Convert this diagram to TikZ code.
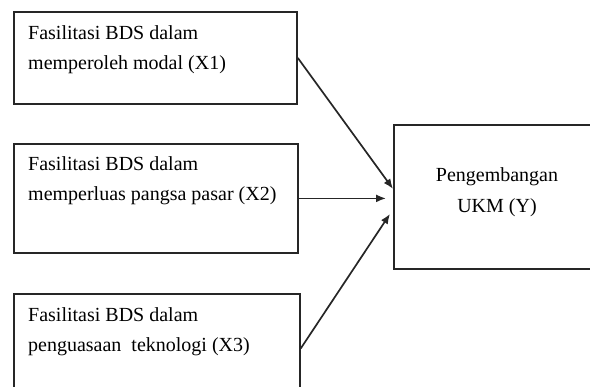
\documentclass[tikz,border=0pt]{standalone}
\usepackage{fontspec}
\setmainfont{Liberation Serif}
\usetikzlibrary{arrows.meta}

\tikzset{
  box/.style={draw=black!85, line width=1.8pt, anchor=north west, inner sep=0pt},
  lbl/.style={anchor=base west, align=left, inner sep=0pt, font=\fontsize{20}{30}\selectfont, text=black},
  lblc/.style={anchor=base, align=center, inner sep=0pt, font=\fontsize{20}{31}\selectfont, text=black},
  link/.style={draw=black!85, line width=1.7pt, -{Latex[length=10pt,width=8pt]}}
}

\begin{document}
\begin{tikzpicture}[x=1pt, y=-1pt]
  \clip (0,0) rectangle (590,387);
  \useasboundingbox (0,0) rectangle (590,387);

  \node[box, minimum width=283pt, minimum height=92pt] (X1) at (13, 11) {};
  \node[lbl] (X1t) at (28, 70) {Fasilitasi BDS dalam\\memperoleh modal (X1)};

  \node[box, minimum width=284pt, minimum height=109pt] (X2) at (13, 143) {};
  \node[lbl] (X2t) at (28, 201) {Fasilitasi BDS dalam\\memperluas pangsa pasar (X2)};

  \node[box, minimum width=286pt, minimum height=109pt] (X3) at (13, 293) {};
  \node[lbl] (X3t) at (28, 352) {Fasilitasi BDS dalam\\penguasaan\ \ teknologi (X3)};

  \node[box, minimum width=205pt, minimum height=144pt] (Y) at (393, 124) {};
  \node[lblc] (Yt) at (497, 213) {Pengembangan\\UKM (Y)};

  \draw[link] (X1.east) -- ([yshift=8pt]Y.west);
  \draw[link] (X2.east) -- ([xshift=-7pt]X2.east -| Y.west);
  \draw[link] (X3.east) -- ([xshift=-3pt,yshift=-17pt]Y.west);
\end{tikzpicture}
\end{document}
